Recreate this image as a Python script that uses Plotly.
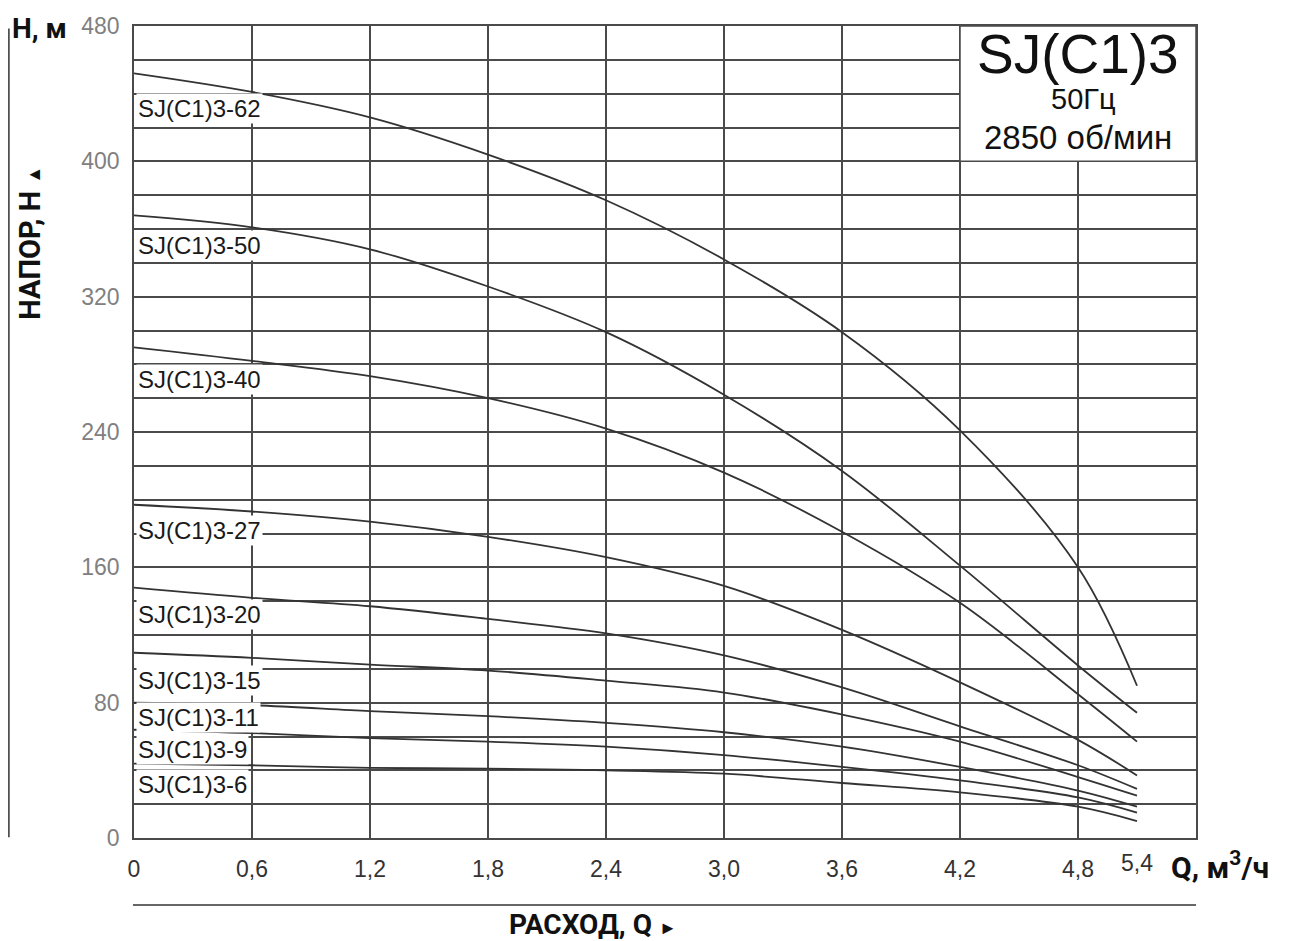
import plotly.graph_objects as go

# Flow Q, m3/h
q = [0, 0.6, 1.2, 1.8, 2.4, 3.0, 3.6, 4.2, 4.8, 5.1]

models = ["SJ(C1)3-62", "SJ(C1)3-50", "SJ(C1)3-40", "SJ(C1)3-27", "SJ(C1)3-20",
          "SJ(C1)3-15", "SJ(C1)3-11", "SJ(C1)3-9", "SJ(C1)3-6"]

h_62 = [452, 441, 426, 404, 377, 342, 299, 241, 160, 90]
h_50 = [368, 361, 348, 326, 299, 262, 217, 161, 102, 74]
h_40 = [290, 282, 273, 260, 242, 216, 181, 139, 85, 57]
h_27 = [197, 193, 187, 178, 166, 149, 123, 92, 58, 37]
h_20 = [148, 142, 137, 129.5, 121, 108, 89, 66, 43, 29]
h_15 = [109.5, 106.5, 102.5, 99, 93, 86, 73, 57, 36, 25]
h_11 = [80, 78.5, 75, 72, 68, 62.5, 54, 42, 28, 18.5]
h_9 = [64, 62, 59, 57, 54, 49, 42, 34, 24, 15]
h_6 = [44, 43, 41.5, 41, 40, 38, 32.5, 27, 18.5, 10]
heads = [h_62, h_50, h_40, h_27, h_20, h_15, h_11, h_9, h_6]

# label anchor heads (y position of each model label)
label_h = [431, 350, 271, 182, 132, 93, 71.5, 52.5, 31.5]

x_tickvals = [0, 0.6, 1.2, 1.8, 2.4, 3.0, 3.6, 4.2, 4.8]
x_ticktext = ["0", "0,6", "1,2", "1,8", "2,4", "3,0", "3,6", "4,2", "4,8"]
x_last_label = "5,4"
x_last_pos = 5.1
y_tickvals = [0, 80, 160, 240, 320, 400, 480]

GRID = "#4a4a4a"
CURVE = "#333333"
FONT = "Liberation Sans, Arial, sans-serif"
BOLD = "Roboto, Liberation Sans, sans-serif"

fig = go.Figure()
for name, h in zip(models, heads):
    fig.add_trace(go.Scatter(x=q, y=h, mode="lines", name=name,
                             line=dict(color=CURVE, width=1.8, shape="spline", smoothing=1.0),
                             showlegend=False, hoverinfo="x+y+name"))

for name, lh in zip(models, label_h):
    fig.add_annotation(x=0.0, y=lh, xref="x", yref="y", text=name, showarrow=False,
                       xanchor="left", yanchor="middle", xshift=2,
                       font=dict(family=FONT, size=24, color="#1a1a1a"),
                       bgcolor="white", borderpad=1)

# top-right info box
fig.add_shape(type="rect", xref="x", yref="y", x0=4.2, x1=5.4, y0=400, y1=480,
              fillcolor="white", line=dict(color=GRID, width=1.5), layer="above")
fig.add_annotation(x=4.8, y=461, xref="x", yref="y", text="SJ(C1)3", showarrow=False, yshift=4,
                   font=dict(family=FONT, size=55, color="#111"), xanchor="center", yanchor="middle")
fig.add_annotation(x=4.83, y=428, xref="x", yref="y", text="50Гц", showarrow=False,
                   borderpad=0, yshift=-2,
                   font=dict(family=FONT, size=29, color="#111"), xanchor="center", yanchor="bottom")
fig.add_annotation(x=4.8, y=428, xref="x", yref="y", text="2850 об/мин", showarrow=False,
                   borderpad=0, yshift=-4,
                   font=dict(family=FONT, size=33, color="#111"), xanchor="center", yanchor="top")

# last x label
fig.add_annotation(x=x_last_pos, y=0, xref="x", yref="y", text=x_last_label, showarrow=False,
                   xanchor="center", yanchor="top", yshift=-10,
                   font=dict(family=FONT, size=23, color="#333"))

# axis captions
fig.add_annotation(x=1.0, y=0, xref="paper", yref="y", text="<b>Q, м<sup>3</sup>/ч</b>",
                   showarrow=False, xanchor="left", yanchor="top", xshift=-27, yshift=-6,
                   font=dict(family=BOLD, size=30, color="#111"))
fig.add_annotation(x=-0.1165, y=1.0, xref="paper", yref="paper", text="<b>H, м</b>",
                   showarrow=False, xanchor="left", yanchor="middle", yshift=-2,
                   font=dict(family=BOLD, size=28, color="#111"))
fig.add_annotation(x=-0.098, y=0.733, xref="paper", yref="paper",
                   text="<b>НАПОР, Н</b> <span style='font-size:18px'>▲</span>",
                   showarrow=False, textangle=-90, xanchor="center", yanchor="middle",
                   font=dict(family=BOLD, size=29, color="#111"))
fig.add_annotation(x=0.432, y=-0.107, xref="paper", yref="paper",
                   text="<b>РАСХОД, Q</b> <span style='font-size:18px'>►</span>",
                   showarrow=False, xanchor="center", yanchor="middle",
                   font=dict(family=BOLD, size=28, color="#111"))

# decorative rules
fig.add_shape(type="line", xref="paper", yref="paper", x0=-0.1178, x1=-0.1178, y0=0.001, y1=0.997,
              line=dict(color="#333", width=1.5))
fig.add_shape(type="line", xref="paper", yref="paper", x0=-0.001, x1=1.0, y0=-0.0825, y1=-0.0825,
              line=dict(color="#333", width=1.5))

fig.update_xaxes(range=[0, 5.4], tickvals=x_tickvals, ticktext=x_ticktext, automargin=False,
                 showgrid=True, gridcolor=GRID, gridwidth=1.5,
                 showline=True, linecolor=GRID, linewidth=1.5, mirror=True,
                 zeroline=False, ticks="", ticklabelstandoff=10,
                 tickfont=dict(family=FONT, size=23, color="#333"))
fig.update_yaxes(range=[0, 480], tickvals=y_tickvals, automargin=False,
                 showgrid=True, gridcolor=GRID, gridwidth=1.5,
                 minor=dict(dtick=20, showgrid=True, gridcolor=GRID, gridwidth=1.5),
                 showline=True, linecolor=GRID, linewidth=1.5, mirror=True,
                 zeroline=False, ticks="", ticklabelstandoff=8,
                 tickfont=dict(family=FONT, size=23, color="#808080"))

# page body has an 8px margin: size the figure so the plot lands where the reference has it
fig.update_layout(width=1288, height=933, plot_bgcolor="white", paper_bgcolor="white",
                  margin=dict(l=126, r=100, t=18, b=103), showlegend=False)

fig.write_html("out.html")
